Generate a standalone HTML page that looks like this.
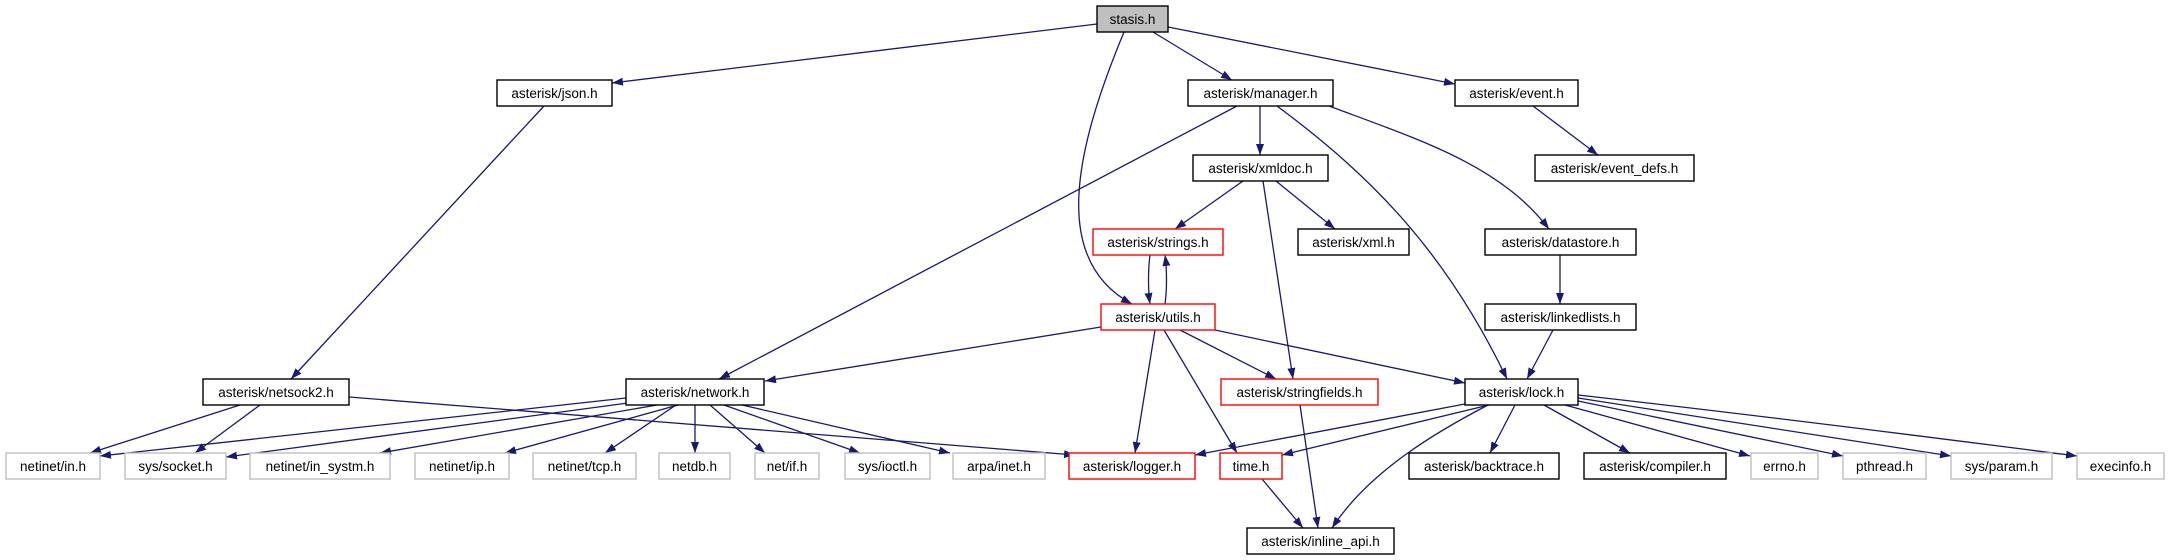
<!DOCTYPE html>
<html><head><meta charset="utf-8"><style>
html,body{margin:0;padding:0;background:#fff;}
svg{display:block;}
text{font-family:"Liberation Sans",sans-serif;font-size:13.5px;fill:#000;}
</style></head><body>
<svg width="2169" height="560" viewBox="0 0 2169 560" xmlns="http://www.w3.org/2000/svg">
<defs>
<marker id="a" markerUnits="userSpaceOnUse" markerWidth="12" markerHeight="10" refX="11" refY="4" orient="auto">
<path d="M0,0 L11,4 L0,8 Z" fill="#191970"/>
</marker>
</defs>
<g fill="none" stroke="#191970" stroke-width="1.3" marker-end="url(#a)">
<path d="M1097,24 L612,83"/>
<path d="M1153,32 L1232,80"/>
<path d="M1168,27 L1455,84"/>
<path d="M1124,32 C1075,150 1050,260 1132,304"/>
<path d="M544,106 L291,379"/>
<path d="M1237,106 L719,379"/>
<path d="M1260,106 L1260,155"/>
<path d="M1277,106 C1370,175 1445,250 1507,379"/>
<path d="M1329,106 C1420,140 1500,165 1549,229"/>
<path d="M1533,106 L1598,155"/>
<path d="M1243,181 L1175,229"/>
<path d="M1276,181 L1335,229"/>
<path d="M1263,181 L1293,379"/>
<path d="M1560,255 L1560,304"/>
<path d="M1553,330 L1527,379"/>
<path d="M1150,255 C1148,270 1148,290 1150,304"/>
<path d="M1165,304 C1167,290 1167,270 1165,255"/>
<path d="M1101,327 L765,381"/>
<path d="M1215,330 L1465,383"/>
<path d="M1180,330 L1276,379"/>
<path d="M1155,330 L1135,453"/>
<path d="M1164,330 L1237,453"/>
<path d="M626,398 L100,456"/>
<path d="M628,403 L226,457"/>
<path d="M657,405 L380,453"/>
<path d="M678,405 L505,453"/>
<path d="M676,405 L605,453"/>
<path d="M695,405 L695,453"/>
<path d="M710,405 L765,453"/>
<path d="M724,405 L860,453"/>
<path d="M742,405 L950,453"/>
<path d="M240,405 L90,453"/>
<path d="M260,405 L195,453"/>
<path d="M349,397 L1075,455"/>
<path d="M1300,405 L1318,528"/>
<path d="M1262,479 L1303,528"/>
<path d="M1488,405 C1440,430 1370,470 1332,528"/>
<path d="M1465,404 L1195,455"/>
<path d="M1489,405 L1282,455"/>
<path d="M1515,405 L1490,453"/>
<path d="M1544,405 L1630,453"/>
<path d="M1565,405 L1750,456"/>
<path d="M1578,401 L1843,456"/>
<path d="M1578,398 L1951,456"/>
<path d="M1578,395 C1800,420 1950,440 2077,456"/>
</g>
<g stroke-width="1.4">
<rect x="1097" y="6" width="71" height="26" fill="#bfbfbf" stroke="#000"/>
<rect x="497" y="80" width="115" height="26" fill="#fff" stroke="#000"/>
<rect x="1188" y="80" width="145" height="26" fill="#fff" stroke="#000"/>
<rect x="1455" y="80" width="123" height="26" fill="#fff" stroke="#000"/>
<rect x="1193" y="155" width="135" height="26" fill="#fff" stroke="#000"/>
<rect x="1535" y="155" width="159" height="26" fill="#fff" stroke="#000"/>
<rect x="1093" y="229" width="130" height="26" fill="#fff" stroke="#ff0000"/>
<rect x="1298" y="229" width="111" height="26" fill="#fff" stroke="#000"/>
<rect x="1485" y="229" width="151" height="26" fill="#fff" stroke="#000"/>
<rect x="1101" y="304" width="114" height="26" fill="#fff" stroke="#ff0000"/>
<rect x="1485" y="304" width="151" height="26" fill="#fff" stroke="#000"/>
<rect x="203" y="379" width="146" height="26" fill="#fff" stroke="#000"/>
<rect x="626" y="379" width="138" height="26" fill="#fff" stroke="#000"/>
<rect x="1221" y="379" width="157" height="26" fill="#fff" stroke="#ff0000"/>
<rect x="1465" y="379" width="113" height="26" fill="#fff" stroke="#000"/>
<rect x="6" y="453" width="94" height="26" fill="#fff" stroke="#bfbfbf"/>
<rect x="125" y="453" width="101" height="26" fill="#fff" stroke="#bfbfbf"/>
<rect x="250" y="453" width="140" height="26" fill="#fff" stroke="#bfbfbf"/>
<rect x="415" y="453" width="94" height="26" fill="#fff" stroke="#bfbfbf"/>
<rect x="533" y="453" width="103" height="26" fill="#fff" stroke="#bfbfbf"/>
<rect x="659" y="453" width="71" height="26" fill="#fff" stroke="#bfbfbf"/>
<rect x="755" y="453" width="64" height="26" fill="#fff" stroke="#bfbfbf"/>
<rect x="845" y="453" width="85" height="26" fill="#fff" stroke="#bfbfbf"/>
<rect x="953" y="453" width="92" height="26" fill="#fff" stroke="#bfbfbf"/>
<rect x="1069" y="453" width="126" height="26" fill="#fff" stroke="#ff0000"/>
<rect x="1220" y="453" width="62" height="26" fill="#fff" stroke="#ff0000"/>
<rect x="1409" y="453" width="150" height="26" fill="#fff" stroke="#000"/>
<rect x="1584" y="453" width="142" height="26" fill="#fff" stroke="#000"/>
<rect x="1751" y="453" width="67" height="26" fill="#fff" stroke="#bfbfbf"/>
<rect x="1843" y="453" width="83" height="26" fill="#fff" stroke="#bfbfbf"/>
<rect x="1951" y="453" width="101" height="26" fill="#fff" stroke="#bfbfbf"/>
<rect x="2077" y="453" width="87" height="26" fill="#fff" stroke="#bfbfbf"/>
<rect x="1247" y="528" width="147" height="26" fill="#fff" stroke="#000"/>
</g>
<g text-anchor="middle">
<text x="1132.5" y="24">stasis.h</text>
<text x="554.5" y="98">asterisk/json.h</text>
<text x="1260.5" y="98">asterisk/manager.h</text>
<text x="1516.5" y="98">asterisk/event.h</text>
<text x="1260.5" y="173">asterisk/xmldoc.h</text>
<text x="1614.5" y="173">asterisk/event_defs.h</text>
<text x="1158" y="247">asterisk/strings.h</text>
<text x="1353.5" y="247">asterisk/xml.h</text>
<text x="1560.5" y="247">asterisk/datastore.h</text>
<text x="1158" y="322">asterisk/utils.h</text>
<text x="1560.5" y="322">asterisk/linkedlists.h</text>
<text x="276" y="397">asterisk/netsock2.h</text>
<text x="695" y="397">asterisk/network.h</text>
<text x="1299.5" y="397">asterisk/stringfields.h</text>
<text x="1521.5" y="397">asterisk/lock.h</text>
<text x="53" y="471">netinet/in.h</text>
<text x="175.5" y="471">sys/socket.h</text>
<text x="320" y="471">netinet/in_systm.h</text>
<text x="462" y="471">netinet/ip.h</text>
<text x="584.5" y="471">netinet/tcp.h</text>
<text x="694.5" y="471">netdb.h</text>
<text x="787" y="471">net/if.h</text>
<text x="887.5" y="471">sys/ioctl.h</text>
<text x="999" y="471">arpa/inet.h</text>
<text x="1132" y="471">asterisk/logger.h</text>
<text x="1251" y="471">time.h</text>
<text x="1484" y="471">asterisk/backtrace.h</text>
<text x="1655" y="471">asterisk/compiler.h</text>
<text x="1784.5" y="471">errno.h</text>
<text x="1884.5" y="471">pthread.h</text>
<text x="2001.5" y="471">sys/param.h</text>
<text x="2120.5" y="471">execinfo.h</text>
<text x="1320.5" y="546">asterisk/inline_api.h</text>
</g>
</svg>
</body></html>
